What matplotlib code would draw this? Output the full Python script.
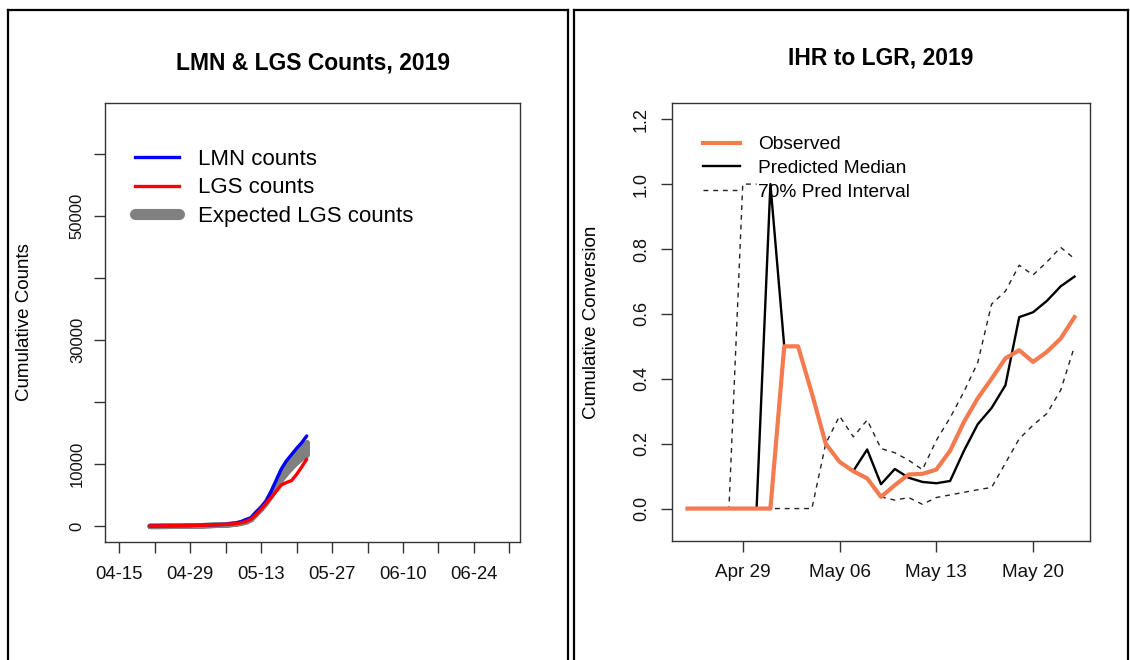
import matplotlib
matplotlib.use('Agg')
import matplotlib.pyplot as plt
import matplotlib.dates as mdates
from matplotlib.lines import Line2D
import numpy as np
import datetime as dt

plt.rcParams['font.family'] = ['Liberation Sans', 'DejaVu Sans']

nan = np.nan

# ---------------- Left panel data: cumulative counts ----------------
count_start = dt.date(2019, 4, 21)
count_days = 32
count_dates = [count_start + dt.timedelta(days=i) for i in range(count_days)]

lmn_counts = [0, 0, 5, 10, 20, 30, 40, 50, 60, 80, 100, 120, 150, 180, 210, 250,
              330, 450, 650, 1000, 1300, 2200, 3000, 4000, 5600, 7400, 9200,
              10500, 11500, 12500, 13400, 14500]
lgs_counts = [0, 0, 5, 10, 20, 30, 40, 50, 60, 80, 100, 120, 150, 180, 210, 250,
              300, 380, 500, 700, 1100, 1800, 2700, 3650, 4600, 5600, 6600,
              7000, 7300, 8300, 9500, 10750]
exp_lgs_low = [0, 0, 5, 10, 20, 30, 40, 50, 60, 80, 100, 120, 150, 180, 210, 250,
               300, 380, 500, 700, 1100, 2000, 2800, 3800, 5000, 6300, 7600,
               8600, 9500, 10300, 11000, 11500]
exp_lgs_high = [0, 0, 5, 10, 20, 30, 40, 50, 60, 80, 100, 120, 150, 180, 210, 250,
                320, 430, 620, 950, 1250, 2200, 3000, 4000, 5500, 7200, 8900,
                10000, 11000, 11900, 12700, 13500]

left_tick_dates = [dt.date(2019, 4, 15) + dt.timedelta(days=7 * i) for i in range(12)]
left_tick_labels = ['04-15', '', '04-29', '', '05-13', '', '05-27', '', '06-10', '', '06-24', '']
left_yticks = [0, 10000, 20000, 30000, 40000, 50000, 60000]
left_ytick_labels = ['0', '10000', '', '30000', '', '50000', '']

# ---------------- Right panel data: cumulative conversion ----------------
conv_start = dt.date(2019, 4, 25)
conv_days = 29
conv_dates = [conv_start + dt.timedelta(days=i) for i in range(conv_days)]

observed = [0, 0, 0, 0, 0, 0, 0, 0.5, 0.5, 0.355, 0.2, 0.144, 0.115, 0.093, 0.036,
            0.072, 0.105, 0.107, 0.12, 0.178, 0.267, 0.34, 0.40, 0.463, 0.488,
            0.452, 0.483, 0.524, 0.59]
pred_median = [0, 0, 0, 0, 0, 0, 1.0, 0.5, 0.5, 0.355, 0.2, 0.144, 0.116, 0.182,
               0.075, 0.122, 0.095, 0.082, 0.078, 0.085, 0.178, 0.26, 0.31, 0.38,
               0.59, 0.605, 0.64, 0.685, 0.715]
interval_early = [0, 0, 0, 0, 1.0, 1.0, nan, nan, nan, nan, nan, nan, nan, nan, nan,
                  nan, nan, nan, nan, nan, nan, nan, nan, nan, nan, nan, nan, nan, nan]
interval_upper = [0, 0, 0, 0, 0, 0, 0, 0, 0, 0, 0.2, 0.285, 0.221, 0.273, 0.185,
                  0.172, 0.149, 0.12, 0.21, 0.28, 0.36, 0.45, 0.63, 0.67, 0.75,
                  0.72, 0.76, 0.805, 0.77]
interval_lower = [nan, nan, nan, nan, nan, nan, nan, nan, nan, nan, nan, nan, nan, nan,
                  0.036, 0.026, 0.034, 0.013, 0.034, 0.042, 0.05, 0.058, 0.065, 0.14,
                  0.215, 0.257, 0.293, 0.365, 0.5]

right_tick_dates = [dt.date(2019, 4, 29), dt.date(2019, 5, 6), dt.date(2019, 5, 13), dt.date(2019, 5, 20)]
right_yticks = [0.0, 0.2, 0.4, 0.6, 0.8, 1.0, 1.2]

# ---------------- Figure ----------------
W, H = 1130, 660
fig = plt.figure(figsize=(W / 100, H / 100), dpi=100)
fig.patch.set_facecolor('white')


def frac_box(l, t, r, b):
    return [l / W, 1 - b / H, (r - l) / W, (b - t) / H]


axis_col = '#333333'
ax1 = fig.add_axes(frac_box(105, 103, 520, 542))
ax2 = fig.add_axes(frac_box(672, 103, 1090, 541))

for ax in (ax1, ax2):
    for s in ax.spines.values():
        s.set_color(axis_col)
        s.set_linewidth(1.0)
    ax.tick_params(direction='out', length=8, width=1.0, color=axis_col, labelcolor='#111111')

# ---- left panel ----
ax1.fill_between(count_dates, exp_lgs_low, exp_lgs_high, color='#808080', lw=4,
                 edgecolor='#808080', joinstyle='round', capstyle='round')
ax1.plot(count_dates, lmn_counts, color='#0000ff', lw=2.4, solid_capstyle='round', label='LMN counts')
ax1.plot(count_dates, lgs_counts, color='#ff0000', lw=2.4, solid_capstyle='round', label='LGS counts')

base = mdates.date2num(dt.date(2019, 4, 15))
ax1.set_xlim(base - 2.82, base + 79.1)
ax1.set_ylim(-2600, 68200)
ax1.set_xticks(left_tick_dates)
ax1.set_xticklabels(left_tick_labels, fontsize=13.3)
ax1.set_yticks(left_yticks)
ax1.set_yticklabels(left_ytick_labels, fontsize=12, rotation=90, va='center')
ax1.tick_params(axis='x', pad=9)
ax1.tick_params(axis='y', pad=6.5)
ax1.set_ylabel('Cumulative Counts', fontsize=13.5, va='center')
ax1.yaxis.set_label_coords((25 - 105) / 415, 0.5)
ax1.set_title('LMN & LGS Counts, 2019', fontsize=16.5, fontweight='bold', pad=24)

h_lmn = Line2D([], [], color='#0000ff', lw=2.4)
h_lgs = Line2D([], [], color='#ff0000', lw=2.4)
h_exp = Line2D([], [], color='#808080', lw=8, solid_capstyle='round')
ax1.legend([h_lmn, h_lgs, h_exp], ['LMN counts', 'LGS counts', 'Expected LGS counts'],
           loc='upper left', bbox_to_anchor=(135 / W, 1 - 149 / H), bbox_transform=fig.transFigure,
           frameon=False, fontsize=16, handlelength=1.97, handletextpad=0.85,
           labelspacing=0.33, borderpad=0, borderaxespad=0)

# ---- right panel ----
dash = (3.5, 3.5)
ax2.plot(conv_dates, interval_early, color='#222222', lw=1.0, dashes=dash)
ax2.plot(conv_dates, interval_upper, color='#222222', lw=1.0, dashes=dash)
ax2.plot(conv_dates, interval_lower, color='#222222', lw=1.0, dashes=dash)
ax2.plot(conv_dates, pred_median, color='black', lw=1.7)
ax2.plot(conv_dates, observed, color='#F47A4F', lw=3.0)

cbase = mdates.date2num(conv_start)
ax2.set_xlim(cbase - 1.12, cbase + 28 + 1.12)
ax2.set_ylim(-0.1, 1.25)
ax2.set_xticks(right_tick_dates)
ax2.xaxis.set_major_formatter(mdates.DateFormatter('%b %d'))
for lab in ax2.get_xticklabels():
    lab.set_fontsize(13.6)
ax2.set_yticks(right_yticks)
ax2.set_yticklabels(['%.1f' % v for v in right_yticks], fontsize=13, rotation=90, va='center')
ax2.tick_params(axis='x', pad=8.5)
ax2.tick_params(axis='y', pad=8)
ax2.set_ylabel('Cumulative Conversion', fontsize=13.5, va='center')
ax2.yaxis.set_label_coords((592 - 672) / 418, 0.5)
ax2.set_title('IHR to LGR, 2019', fontsize=16.5, fontweight='bold', pad=28)

h_obs = Line2D([], [], color='#F47A4F', lw=3.0)
h_med = Line2D([], [], color='black', lw=1.7)
h_int = Line2D([], [], color='#222222', lw=1.0, dashes=dash)
ax2.legend([h_obs, h_med, h_int], ['Observed', 'Predicted Median', '70% Pred Interval'],
           loc='upper left', bbox_to_anchor=(703 / W, 1 - 136 / H), bbox_transform=fig.transFigure,
           frameon=False, fontsize=13.8, handlelength=1.93, handletextpad=0.94,
           labelspacing=0.32, borderpad=0, borderaxespad=0)

# ---- outer panel borders ----
def vline(x, y0, y1):
    fig.add_artist(Line2D([x / W, x / W], [1 - y0 / H, 1 - y1 / H], color='black', lw=1.6,
                          transform=fig.transFigure))


def hline(y, x0, x1):
    fig.add_artist(Line2D([x0 / W, x1 / W], [1 - y / H, 1 - y / H], color='black', lw=1.6,
                          transform=fig.transFigure))


vline(8, 10, 660)
vline(568, 10, 660)
hline(10, 8, 568)
vline(574, 10, 660)
vline(1128, 10, 660)
hline(10, 574, 1128)

fig.savefig('out.png', dpi=100, facecolor='white')
